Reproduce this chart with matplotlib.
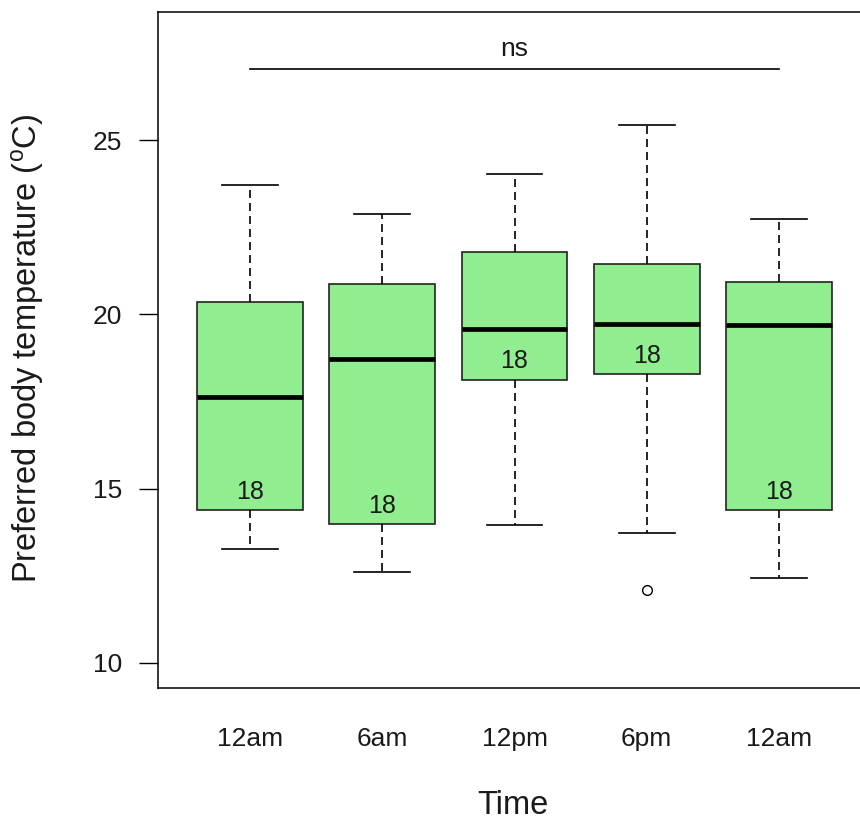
import matplotlib
matplotlib.use('Agg')
from matplotlib import pyplot

pyplot.rcParams['font.family'] = ['Liberation Sans', 'DejaVu Sans']
pyplot.rcParams['mathtext.fontset'] = 'custom'
pyplot.rcParams['mathtext.rm'] = 'Liberation Sans'
pyplot.rcParams['mathtext.it'] = 'Liberation Sans'

# values
times = ['12am', '6am', '12pm', '6pm', '12am']
whislo = [13.26, 12.62, 13.97, 13.73, 12.45]
q1 = [14.38, 13.98, 18.13, 18.28, 14.38]
med = [17.62, 18.72, 19.58, 19.74, 19.70]
q3 = [20.37, 20.88, 21.80, 21.44, 20.93]
whishi = [23.72, 22.88, 24.02, 25.43, 22.75]
fliers = [[], [], [], [12.1], []]
counts = [18, 18, 18, 18, 18]
ns_level = 27.05
ns_label = 'ns'

positions = list(range(1, len(times) + 1))
stats = []
for i in range(len(times)):
    stats.append({'label': times[i], 'whislo': whislo[i], 'q1': q1[i], 'med': med[i],
                  'q3': q3[i], 'whishi': whishi[i], 'fliers': fliers[i]})

fig = pyplot.figure(figsize=(8.6, 8.23), dpi=100)
# right edge of the frame lies just outside the picture, as in the reference
ax = fig.add_axes([158/860, (823-688)/823, (868-158)/860, (688-12)/823])

ax.bxp(stats, positions=positions, widths=0.8, capwidths=0.42, patch_artist=True,
       boxprops={'facecolor': '#90EE90', 'edgecolor': '#222222', 'linewidth': 1.2},
       medianprops={'color': 'black', 'linewidth': 3.4, 'solid_capstyle': 'butt'},
       whiskerprops={'color': 'black', 'linewidth': 1.2, 'linestyle': (0, (4.8, 3))},
       capprops={'color': 'black', 'linewidth': 1.2},
       flierprops={'marker': 'o', 'markerfacecolor': 'white', 'markeredgecolor': 'black',
                   'markersize': 7, 'markeredgewidth': 1})

# sample sizes above lower quartile
for p, n, lo in zip(positions, counts, q1):
    ax.annotate(str(n), (p, lo), xytext=(0, 13.5), textcoords='offset points',
                ha='center', va='center', fontsize=18, color='#1a1a1a')

# significance bar
ax.plot([positions[0], positions[-1]], [ns_level, ns_level], color='black', lw=1.2)
ax.annotate(ns_label, ((positions[0] + positions[-1]) / 2, ns_level), xytext=(0, 14.5),
            textcoords='offset points', ha='center', va='center', fontsize=19, color='#1a1a1a')

ax.set_xlim(1 - 92/132.25, 1 + 618/132.25)
ax.set_ylim(10 - 25/34.8, 25 + 128/34.8)
ax.set_yticks([10, 15, 20, 25])
ax.set_xticks(positions)
ax.set_xticklabels(times)
ax.tick_params(axis='x', length=0, pad=28, labelsize=19, labelcolor='#1a1a1a')
ax.tick_params(axis='y', length=13.7, width=1, pad=12, labelsize=19, labelcolor='#1a1a1a')
for s in ax.spines.values():
    s.set_linewidth(1.1)

fig.text(28/860, 1 - 348/823, r'Preferred body temperature ($^o$C)', rotation=90,
         ha='center', va='center', fontsize=23.5, color='#1a1a1a')
fig.text(513/860, 1 - 806/823, 'Time', ha='center', va='center', fontsize=23.5, color='#1a1a1a')

fig.savefig('out.png', dpi=100)
